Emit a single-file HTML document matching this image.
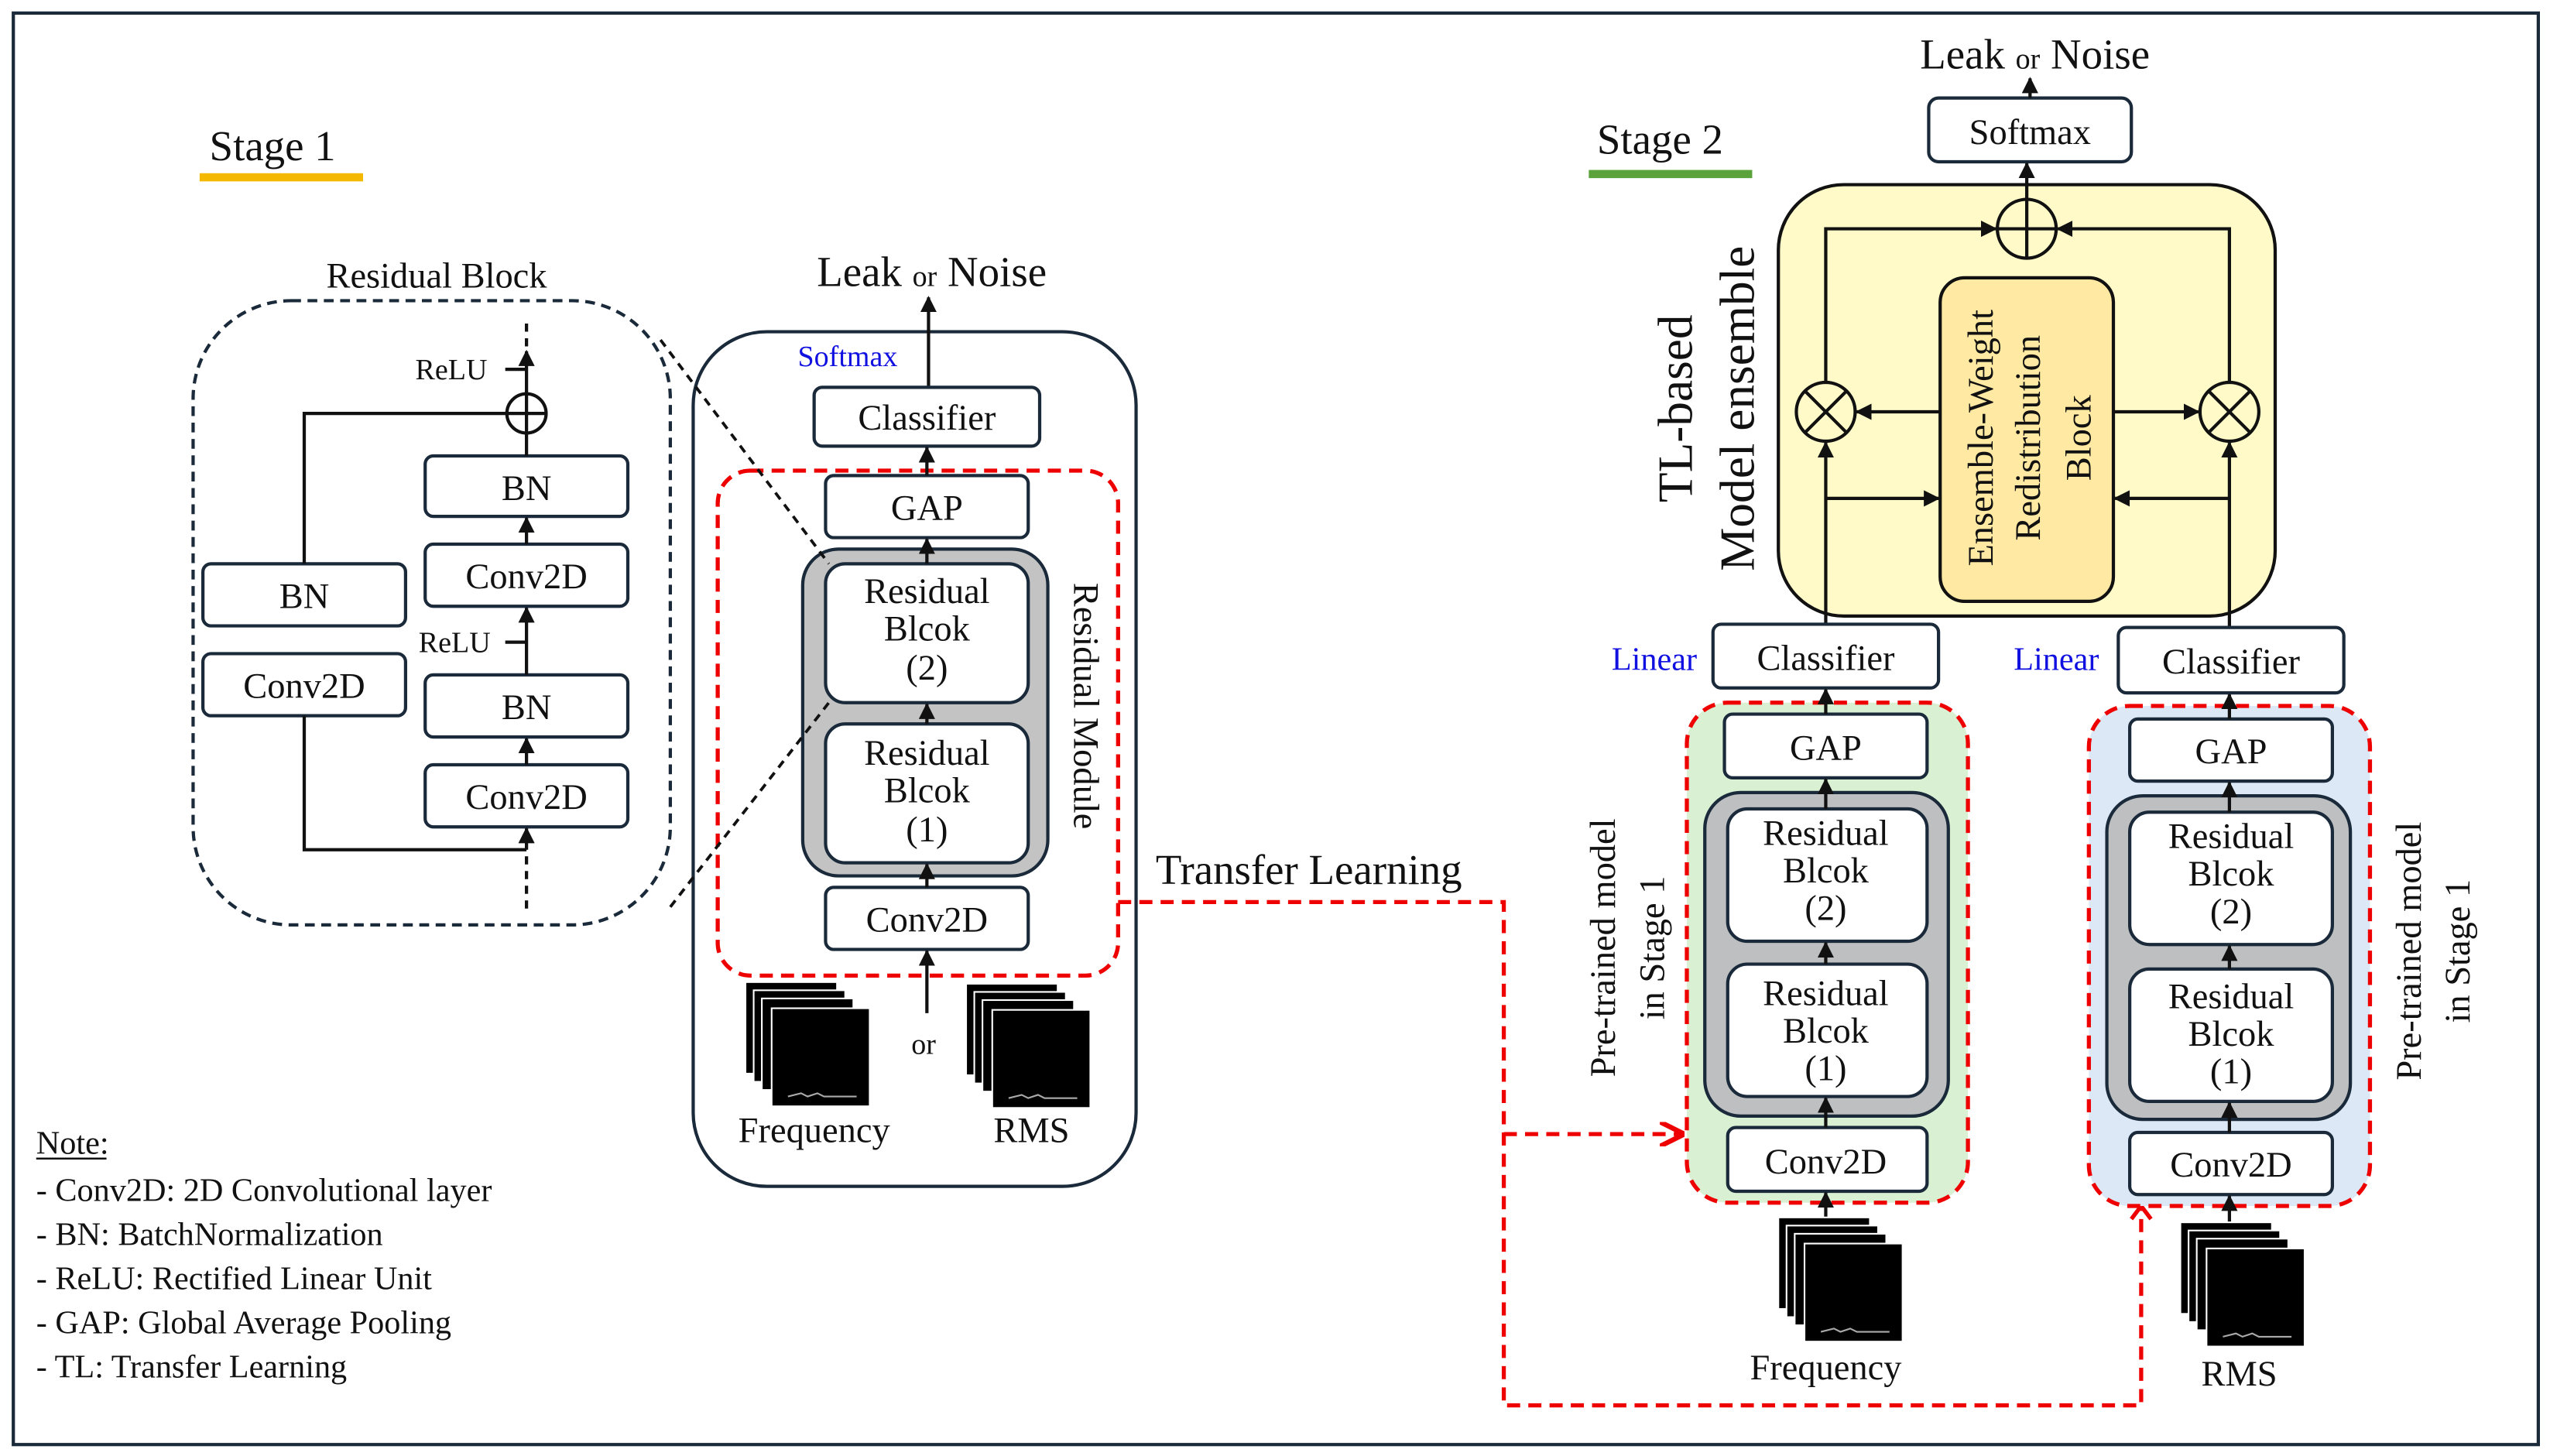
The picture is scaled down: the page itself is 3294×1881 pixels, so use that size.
<!DOCTYPE html>
<html><head><meta charset="utf-8"><style>
html,body{margin:0;padding:0;background:#fff}
svg{display:block}
svg, svg text, svg tspan{font-family:"Liberation Serif","Times New Roman",serif !important}
text{fill:#111}
</style></head><body>
<svg width="3294" height="1881" viewBox="0 0 1560 891" xmlns="http://www.w3.org/2000/svg" font-family="Liberation Serif, serif">
<defs>
<marker id="a" viewBox="0 0 10 10" refX="9" refY="5" markerWidth="5" markerHeight="5" orient="auto"><path d="M0,0 L10,5 L0,10z" fill="#111"/></marker>
<marker id="r" viewBox="0 0 10 10" refX="9" refY="5" markerWidth="6" markerHeight="6" orient="auto"><path d="M0,0 L10,5 L0,10" fill="none" stroke="#e00" stroke-width="2"/></marker>
<g id="stk">
<rect x="0" y="0" width="56" height="56" fill="#000" stroke="#fff" stroke-width="1"/>
<rect x="5" y="5" width="56" height="56" fill="#000" stroke="#fff" stroke-width="1"/>
<rect x="10" y="10" width="56" height="56" fill="#000" stroke="#fff" stroke-width="1"/>
<rect x="16" y="16" width="60" height="60" fill="#000" stroke="#fff" stroke-width="1"/>
<path d="M26,70 L34,68 L38,70 L44,68 L48,70 L68,70" stroke="#aaa" stroke-width="1" fill="none"/>
</g>
</defs>
<rect x="8" y="8" width="1545" height="876" fill="none" stroke="#1a2a3a" stroke-width="2"/>

<!-- Stage 1 -->
<text x="128" y="98" font-size="26">Stage 1</text>
<rect x="122" y="106" width="100" height="5" fill="#f5b800"/>
<text x="267" y="176" font-size="22" text-anchor="middle">Residual Block</text>
<rect x="118" y="184" width="292" height="382" rx="60" fill="none" stroke="#1a2a3a" stroke-width="2" stroke-dasharray="6,4"/>
<g fill="#fff" stroke="#1a2a3a" stroke-width="2">
<rect x="124" y="345" width="124" height="38" rx="5"/>
<rect x="124" y="400" width="124" height="38" rx="5"/>
<rect x="260" y="279" width="124" height="37" rx="5"/>
<rect x="260" y="333" width="124" height="38" rx="5"/>
<rect x="260" y="413" width="124" height="38" rx="5"/>
<rect x="260" y="468" width="124" height="38" rx="5"/>
</g>
<g font-size="22" text-anchor="middle">
<text x="186" y="372">BN</text><text x="186" y="427">Conv2D</text>
<text x="322" y="306">BN</text><text x="322" y="360">Conv2D</text>
<text x="322" y="440">BN</text><text x="322" y="495">Conv2D</text>
</g>
<g stroke="#111" stroke-width="2" fill="none">
<circle cx="322" cy="253" r="12"/>
<line x1="310" y1="253" x2="334" y2="253"/><line x1="322" y1="241" x2="322" y2="265"/>
<polyline points="310,253 186,253 186,345"/>
<polyline points="186,438 186,520 322,520"/>
<line x1="322" y1="279" x2="322" y2="265"/>
<line x1="322" y1="241" x2="322" y2="215" marker-end="url(#a)"/>
<line x1="322" y1="212" x2="322" y2="194" stroke-dasharray="5,4"/>
<line x1="322" y1="333" x2="322" y2="317" marker-end="url(#a)"/>
<line x1="322" y1="413" x2="322" y2="372" marker-end="url(#a)"/>
<line x1="322" y1="468" x2="322" y2="452" marker-end="url(#a)"/>
<line x1="322" y1="520" x2="322" y2="507" marker-end="url(#a)"/>
<line x1="322" y1="556" x2="322" y2="520" stroke-dasharray="5,4"/>
<line x1="309" y1="226" x2="322" y2="226"/>
<line x1="309" y1="393" x2="322" y2="393"/>
</g>
<text x="254" y="232" font-size="18">ReLU</text>
<text x="256" y="399" font-size="18">ReLU</text>

<!-- Stage1 model -->
<rect x="424" y="203" width="271" height="523" rx="45" fill="none" stroke="#1a2a3a" stroke-width="2"/>
<text x="570" y="175" font-size="26" text-anchor="middle">Leak <tspan font-size="18">or</tspan> Noise</text>
<line x1="568" y1="237" x2="568" y2="182" stroke="#111" stroke-width="2" marker-end="url(#a)"/>
<text x="488" y="224" font-size="18" style="fill:#1010e0">Softmax</text>
<rect x="498" y="237" width="138" height="36" rx="5" fill="#fff" stroke="#1a2a3a" stroke-width="2"/>
<text x="567" y="263" font-size="22" text-anchor="middle">Classifier</text>
<rect x="439" y="288" width="245" height="309" rx="20" fill="none" stroke="#e00" stroke-width="2.5" stroke-dasharray="8,5"/>
<rect x="505" y="291" width="124" height="38" rx="5" fill="#fff" stroke="#1a2a3a" stroke-width="2"/>
<text x="567" y="318" font-size="22" text-anchor="middle">GAP</text>
<rect x="491" y="336" width="150" height="200" rx="22" fill="#c3c3c3" stroke="#1a2a3a" stroke-width="2"/>
<rect x="505" y="345" width="124" height="85" rx="12" fill="#fff" stroke="#1a2a3a" stroke-width="2"/>
<rect x="505" y="443" width="124" height="85" rx="12" fill="#fff" stroke="#1a2a3a" stroke-width="2"/>
<g font-size="22" text-anchor="middle">
<text x="567" y="369">Residual</text><text x="567" y="392">Blcok</text><text x="567" y="416">(2)</text>
<text x="567" y="468">Residual</text><text x="567" y="491">Blcok</text><text x="567" y="515">(1)</text>
</g>
<rect x="505" y="543" width="124" height="38" rx="5" fill="#fff" stroke="#1a2a3a" stroke-width="2"/>
<text x="567" y="570" font-size="22" text-anchor="middle">Conv2D</text>
<g stroke="#111" stroke-width="2">
<line x1="567" y1="291" x2="567" y2="274" marker-end="url(#a)"/>
<line x1="567" y1="345" x2="567" y2="330" marker-end="url(#a)"/>
<line x1="567" y1="443" x2="567" y2="431" marker-end="url(#a)"/>
<line x1="567" y1="543" x2="567" y2="529" marker-end="url(#a)"/>
<line x1="567" y1="620" x2="567" y2="582" marker-end="url(#a)"/>
</g>
<text x="565" y="645" font-size="18" text-anchor="middle">or</text>
<use href="#stk" x="456" y="601"/>
<use href="#stk" x="591" y="602"/>
<text x="498" y="699" font-size="22" text-anchor="middle">Frequency</text>
<text x="631" y="699" font-size="22" text-anchor="middle">RMS</text>
<text transform="translate(657,432) rotate(90)" font-size="22" text-anchor="middle">Residual Module</text>
<g stroke="#111" stroke-width="1.8" stroke-dasharray="5,4">
<line x1="404" y1="208" x2="507" y2="345"/>
<line x1="410" y1="555" x2="507" y2="430"/>
</g>

<!-- Transfer -->
<text x="707" y="541" font-size="26">Transfer Learning</text>
<g stroke="#e00" stroke-width="2.5" fill="none" stroke-dasharray="8,5">
<polyline points="684,552 920,552 920,860 1310,860 1310,740"/>
<line x1="920" y1="694" x2="1029" y2="694" marker-end="url(#r)"/>
</g>
<path d="M1304,746 L1310,738 L1316,746" fill="none" stroke="#e00" stroke-width="2.5"/>

<!-- Stage 2 -->
<text x="977" y="94" font-size="26">Stage 2</text>
<rect x="972" y="104" width="100" height="5" fill="#5aa33a"/>
<text x="1245" y="42" font-size="26" text-anchor="middle">Leak <tspan font-size="18">or</tspan> Noise</text>
<rect x="1180" y="60" width="124" height="39" rx="6" fill="#fff" stroke="#1a2a3a" stroke-width="2"/>
<text x="1242" y="88" font-size="22" text-anchor="middle">Softmax</text>
<line x1="1242" y1="60" x2="1242" y2="48" stroke="#111" stroke-width="2" marker-end="url(#a)"/>
<rect x="1088" y="113" width="304" height="264" rx="40" fill="#fffac8" stroke="#111" stroke-width="2"/>
<rect x="1187" y="170" width="106" height="198" rx="15" fill="#ffe9a3" stroke="#111" stroke-width="2"/>
<g font-size="22" text-anchor="middle">
<text transform="translate(1219,268) rotate(-90)">Ensemble-Weight</text>
<text transform="translate(1248,268) rotate(-90)">Redistribution</text>
<text transform="translate(1279,268) rotate(-90)">Block</text>
<text transform="translate(1035,250) rotate(-90)" font-size="30">TL-based</text>
<text transform="translate(1073,250) rotate(-90)" font-size="30">Model ensemble</text>
</g>
<g stroke="#111" stroke-width="2" fill="none">
<circle cx="1240" cy="140" r="18" fill="#fffac8"/>
<line x1="1222" y1="140" x2="1258" y2="140"/><line x1="1240" y1="122" x2="1240" y2="158"/>
<line x1="1240" y1="122" x2="1240" y2="100" marker-end="url(#a)"/>
<circle cx="1117" cy="252" r="18"/>
<line x1="1104" y1="239" x2="1130" y2="265"/><line x1="1130" y1="239" x2="1104" y2="265"/>
<circle cx="1364" cy="252" r="18"/>
<line x1="1351" y1="239" x2="1377" y2="265"/><line x1="1377" y1="239" x2="1351" y2="265"/>
<polyline points="1117,234 1117,140 1221,140" marker-end="url(#a)"/>
<polyline points="1364,234 1364,140 1259,140" marker-end="url(#a)"/>
<line x1="1187" y1="252" x2="1136" y2="252" marker-end="url(#a)"/>
<line x1="1293" y1="252" x2="1345" y2="252" marker-end="url(#a)"/>
<line x1="1117" y1="382" x2="1117" y2="271" marker-end="url(#a)"/>
<line x1="1364" y1="384" x2="1364" y2="271" marker-end="url(#a)"/>
<line x1="1117" y1="305" x2="1186" y2="305" marker-end="url(#a)"/>
<line x1="1364" y1="305" x2="1294" y2="305" marker-end="url(#a)"/>
</g>
<text x="986" y="410" font-size="20" style="fill:#1010e0">Linear</text>
<text x="1232" y="410" font-size="20" style="fill:#1010e0">Linear</text>
<rect x="1048" y="382" width="138" height="39" rx="5" fill="#fff" stroke="#1a2a3a" stroke-width="2"/>
<text x="1117" y="410" font-size="22" text-anchor="middle">Classifier</text>
<rect x="1296" y="384" width="138" height="40" rx="5" fill="#fff" stroke="#1a2a3a" stroke-width="2"/>
<text x="1365" y="412" font-size="22" text-anchor="middle">Classifier</text>

<!-- left module -->
<rect x="1032" y="430" width="172" height="306" rx="25" fill="#d9f0d3" stroke="#e00" stroke-width="2.5" stroke-dasharray="8,5"/>
<rect x="1055" y="437" width="124" height="39" rx="5" fill="#fff" stroke="#1a2a3a" stroke-width="2"/>
<text x="1117" y="465" font-size="22" text-anchor="middle">GAP</text>
<rect x="1043" y="485" width="149" height="198" rx="22" fill="#bdbfc0" stroke="#1a2a3a" stroke-width="2"/>
<rect x="1057" y="495" width="122" height="81" rx="12" fill="#fff" stroke="#1a2a3a" stroke-width="2"/>
<rect x="1057" y="590" width="122" height="81" rx="12" fill="#fff" stroke="#1a2a3a" stroke-width="2"/>
<rect x="1057" y="690" width="122" height="39" rx="5" fill="#fff" stroke="#1a2a3a" stroke-width="2"/>
<g font-size="22" text-anchor="middle">
<text x="1117" y="517">Residual</text><text x="1117" y="540">Blcok</text><text x="1117" y="563">(2)</text>
<text x="1117" y="615">Residual</text><text x="1117" y="638">Blcok</text><text x="1117" y="661">(1)</text>
<text x="1117" y="718">Conv2D</text>
</g>
<!-- right module -->
<rect x="1278" y="432" width="172" height="306" rx="25" fill="#dce8f5" stroke="#e00" stroke-width="2.5" stroke-dasharray="8,5"/>
<rect x="1303" y="440" width="124" height="38" rx="5" fill="#fff" stroke="#1a2a3a" stroke-width="2"/>
<text x="1365" y="467" font-size="22" text-anchor="middle">GAP</text>
<rect x="1289" y="487" width="149" height="198" rx="22" fill="#bdbfc0" stroke="#1a2a3a" stroke-width="2"/>
<rect x="1303" y="497" width="124" height="81" rx="12" fill="#fff" stroke="#1a2a3a" stroke-width="2"/>
<rect x="1303" y="593" width="124" height="81" rx="12" fill="#fff" stroke="#1a2a3a" stroke-width="2"/>
<rect x="1303" y="693" width="124" height="38" rx="5" fill="#fff" stroke="#1a2a3a" stroke-width="2"/>
<g font-size="22" text-anchor="middle">
<text x="1365" y="519">Residual</text><text x="1365" y="542">Blcok</text><text x="1365" y="565">(2)</text>
<text x="1365" y="617">Residual</text><text x="1365" y="640">Blcok</text><text x="1365" y="663">(1)</text>
<text x="1365" y="720">Conv2D</text>
</g>
<g stroke="#111" stroke-width="2">
<line x1="1117" y1="437" x2="1117" y2="422" marker-end="url(#a)"/>
<line x1="1117" y1="495" x2="1117" y2="477" marker-end="url(#a)"/>
<line x1="1117" y1="590" x2="1117" y2="577" marker-end="url(#a)"/>
<line x1="1117" y1="690" x2="1117" y2="672" marker-end="url(#a)"/>
<line x1="1117" y1="748" x2="1117" y2="730" marker-end="url(#a)"/>
<line x1="1364" y1="440" x2="1364" y2="425" marker-end="url(#a)"/>
<line x1="1364" y1="497" x2="1364" y2="479" marker-end="url(#a)"/>
<line x1="1364" y1="593" x2="1364" y2="579" marker-end="url(#a)"/>
<line x1="1364" y1="693" x2="1364" y2="675" marker-end="url(#a)"/>
<line x1="1364" y1="750" x2="1364" y2="732" marker-end="url(#a)"/>
</g>
<use href="#stk" x="1088" y="745"/>
<use href="#stk" x="1334" y="748"/>
<text x="1117" y="844" font-size="22" text-anchor="middle">Frequency</text>
<text x="1370" y="848" font-size="22" text-anchor="middle">RMS</text>
<g font-size="22" text-anchor="middle">
<text transform="translate(988,580) rotate(-90)">Pre-trained model</text>
<text transform="translate(1018,580) rotate(-90)">in Stage 1</text>
<text transform="translate(1481,582) rotate(-90)">Pre-trained model</text>
<text transform="translate(1511,582) rotate(-90)">in Stage 1</text>
</g>

<!-- Note -->
<g font-size="20">
<text x="22" y="706">Note:</text>
<line x1="22" y1="709" x2="65" y2="709" stroke="#111" stroke-width="1.2"/>
<text x="22" y="735">- Conv2D: 2D Convolutional layer</text>
<text x="22" y="762">- BN: BatchNormalization</text>
<text x="22" y="789">- ReLU: Rectified Linear Unit</text>
<text x="22" y="816">- GAP: Global Average Pooling</text>
<text x="22" y="843">- TL: Transfer Learning</text>
</g>
</svg>
</body></html>
